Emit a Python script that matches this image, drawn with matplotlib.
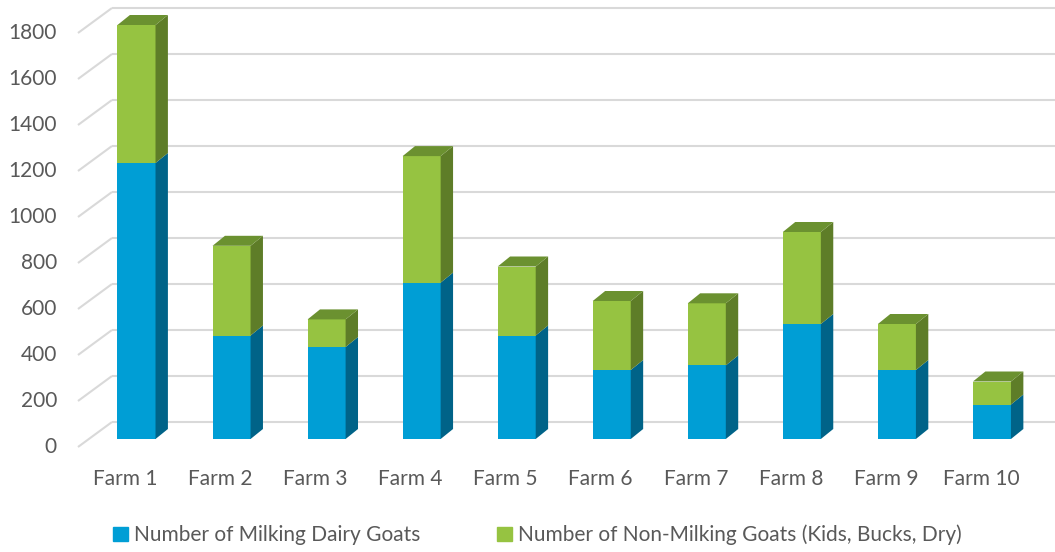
import matplotlib.pyplot as plt
from matplotlib.patches import Polygon, Patch

farms = ["Farm 1", "Farm 2", "Farm 3", "Farm 4", "Farm 5",
         "Farm 6", "Farm 7", "Farm 8", "Farm 9", "Farm 10"]
milking = [1200, 450, 400, 680, 450, 300, 320, 500, 300, 150]
non_milking = [600, 390, 120, 550, 300, 300, 270, 400, 200, 100]
y_ticks = [0, 200, 400, 600, 800, 1000, 1200, 1400, 1600, 1800]
series_names = ["Number of Milking Dairy Goats",
                "Number of Non-Milking Goats (Kids, Bucks, Dry)"]

# face colours: front, side, top
BLUE = ("#009ed5", "#006388", "#0088b8")
GREEN = ("#96c341", "#5e7d28", "#6b9130")
GRID = "#d9d9d9"
TEXT = "#595959"

W, H = 1055, 552
PX_X = 95.05   # pixels per category
PX_Y = 0.23    # pixels per unit
FS = 15


def px_x(p):
    return p / PX_X


def px_y(p):
    return p / PX_Y


plt.rcParams["font.family"] = ["Lato", "DejaVu Sans"]
fig = plt.figure(figsize=(W / 100, H / 100), dpi=100)
ax = fig.add_axes([0, 0, 1, 1])
ax.set_xlim(-125.5 / PX_X, (W - 125.5) / PX_X)
ax.set_ylim((447 - H) / PX_Y, 447 / PX_Y)
ax.axis("off")

# back wall and floor edges
wall_dx, wall_dy = px_x(34), px_y(25)
left, right = -0.5, len(farms) - 0.5
for v in y_ticks:
    ax.plot([left, left + wall_dx], [v, v + wall_dy], color=GRID, lw=1.5,
            solid_capstyle="butt", zorder=1)
    ax.plot([left + wall_dx, right + wall_dx + 1], [v + wall_dy] * 2,
            color=GRID, lw=1.5, solid_capstyle="butt", zorder=1)
    ax.text(left - px_x(21), v, str(v), ha="right", va="center",
            fontsize=FS, color=TEXT)

# bars
bar_w = 0.4
off_x, off_y = px_x(11), px_y(8)
dep_x, dep_y = px_x(12.4), px_y(10)


def draw_block(i, bottom, height, colors, top_face):
    x0 = i + off_x - bar_w / 2
    x1 = x0 + bar_w
    y0 = bottom + off_y
    y1 = y0 + height
    ax.add_patch(Polygon([(x0, y0), (x1, y0), (x1, y1), (x0, y1)],
                         closed=True, fc=colors[0], ec="none", zorder=3))
    ax.add_patch(Polygon([(x1, y0), (x1 + dep_x, y0 + dep_y),
                          (x1 + dep_x, y1 + dep_y), (x1, y1)],
                         closed=True, fc=colors[1], ec="none", zorder=3))
    if top_face:
        ax.add_patch(Polygon([(x0, y1), (x1, y1), (x1 + dep_x, y1 + dep_y),
                              (x0 + dep_x, y1 + dep_y)],
                             closed=True, fc=colors[2], ec="none", zorder=3))


for i, (m, n) in enumerate(zip(milking, non_milking)):
    draw_block(i, 0, m, BLUE, n == 0)
    draw_block(i, m, n, GREEN, True)
    ax.text(i, px_y(-32), farms[i], ha="center", va="center",
            fontsize=FS, color=TEXT)

handles = [Patch(color=BLUE[0]), Patch(color=GREEN[0])]
leg = ax.legend(handles, series_names, loc="center left",
                bbox_to_anchor=(113 / W, 1 - 535 / H),
                ncol=2, frameon=False, fontsize=FS,
                borderpad=0, borderaxespad=0,
                handlelength=0.7, handleheight=0.7, handletextpad=0.3,
                columnspacing=3.7, labelcolor=TEXT)

fig.savefig("out.png", dpi=100)
